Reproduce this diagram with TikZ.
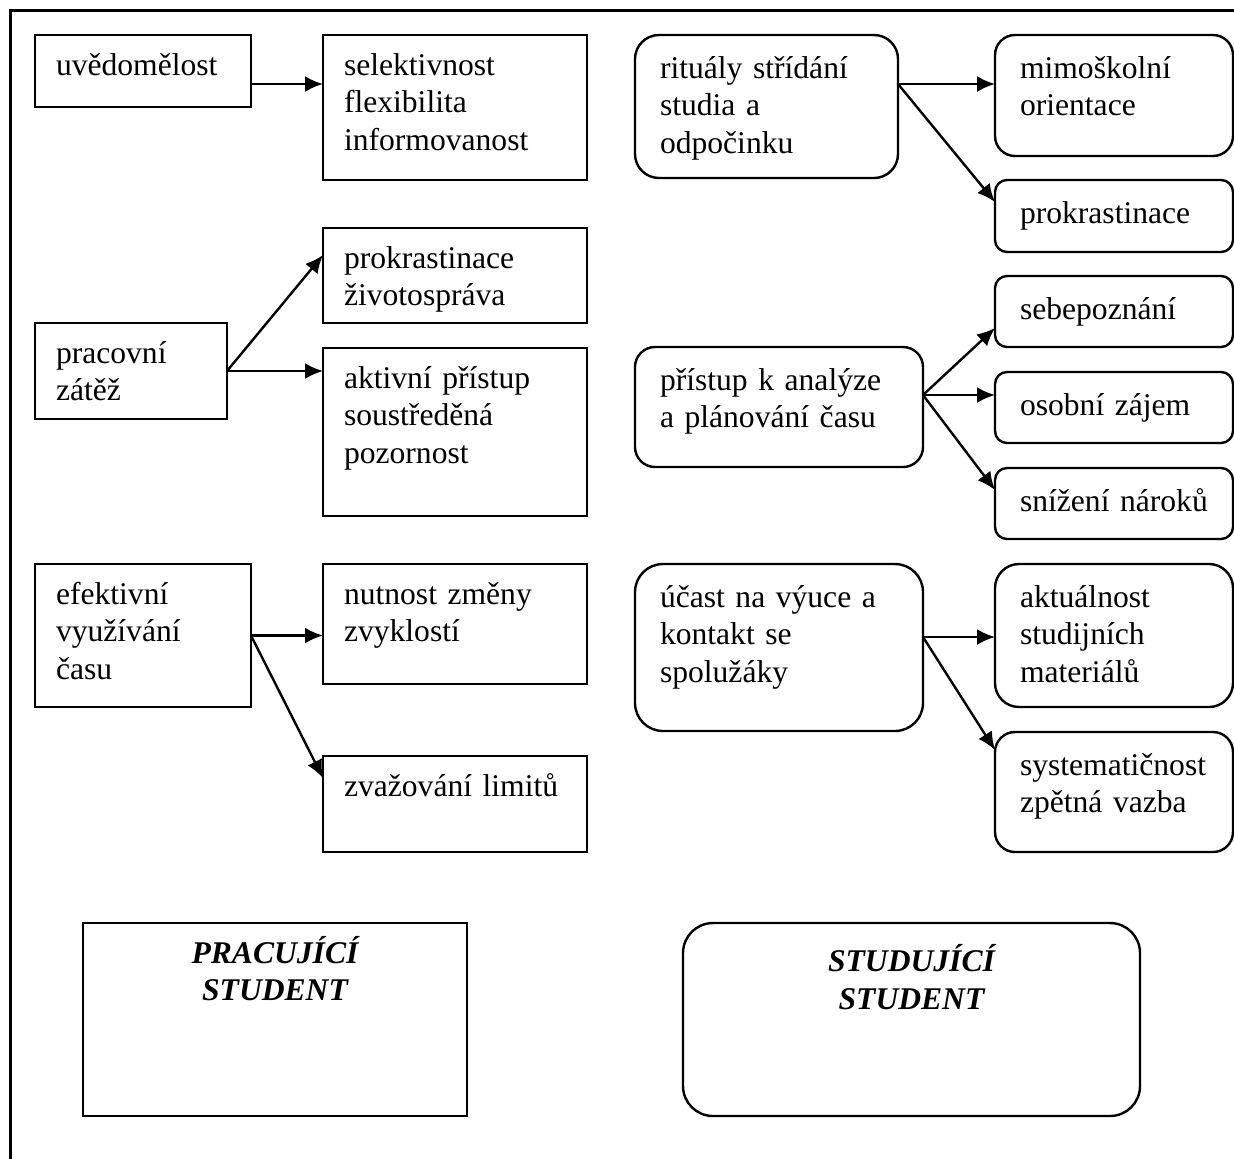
\documentclass[tikz,border=0pt]{standalone}
\usepackage{fontspec}
\setmainfont{Liberation Serif}
\usetikzlibrary{arrows.meta}
\newcommand{\figsize}{\fontsize{15.8}{18.75}\selectfont}

\begin{document}
\begin{tikzpicture}[x=0.5pt,y=-0.5pt,>={Latex[length=9pt,width=8pt]},font=\figsize,
        pbox/.style={draw,line width=1.2pt,anchor=north west,outer sep=0pt,inner xsep=10.5pt,
          inner ysep=0pt,align=left,text height=20pt},
        rbox/.style={pbox,rounded corners=#1,inner xsep=12.5pt,text height=21.5pt},
        rbox/.default=10pt,
        title/.style={align=center,font=\figsize\bfseries\itshape}]
        \useasboundingbox (0,0) rectangle (1234,1158);
        \draw[line width=1.5pt] (10,1170) -- (10,10) -- (1245,10);

        \node[pbox,text width=87pt,text depth=16pt]    (uved)   at (35,35)   {uvědomělost};
        \node[pbox,text width=111pt,text depth=52.5pt] (selekt) at (323,35)  {selektivnost\\flexibilita\\informovanost};
        \node[pbox,text width=75pt,text depth=28pt]    (zatez)  at (35,323)  {pracovní\\zátěž};
        \node[pbox,text width=111pt,text depth=27.5pt] (zivot)  at (323,228) {prokrastinace\\životospráva};
        \node[pbox,text width=111pt,text depth=64pt]   (aktiv)  at (323,348) {aktivní přístup\\soustředěná\\pozornost};
        \node[pbox,text width=87pt,text depth=51.5pt]  (efekt)  at (35,564)  {efektivní\\využívání\\času};
        \node[pbox,text width=111pt,text depth=40pt]   (zmena)  at (323,564) {nutnost změny\\zvyklostí};
        \node[pbox,text width=111pt,text depth=28pt]   (limit)  at (323,756) {zvažování limitů};
        \node[pbox,title,text width=171pt,text depth=76.5pt] (pracuj) at (83,923) {PRACUJÍCÍ\\STUDENT};

        \node[rbox=12pt,text width=106.5pt,text depth=50pt] (ritual)   at (635,35)  {rituály střídání\\studia a\\odpočinku};
        \node[rbox=10pt,text width=94pt,text depth=39pt]    (mimo)     at (995,35)  {mimoškolní\\orientace};
        \node[rbox=6pt,text width=94pt,text depth=14.5pt]   (prokr)    at (995,180) {prokrastinace};
        \node[rbox=10pt,text width=119pt,text depth=38.5pt] (analyza)  at (635,347) {přístup k analýze\\a plánování času};
        \node[rbox=6pt,text width=94pt,text depth=14pt]     (sebe)     at (995,276) {sebepoznání};
        \node[rbox=6pt,text width=94pt,text depth=14pt]     (zajem)    at (995,372) {osobní zájem};
        \node[rbox=6pt,text width=94pt,text depth=14pt]     (naroky)   at (995,468) {snížení nároků};
        \node[rbox=14pt,text width=119pt,text depth=62pt]   (vyuka)    at (635,564) {účast na výuce a\\kontakt se\\spolužáky};
        \node[rbox=12pt,text width=94pt,text depth=50pt]    (material) at (995,564) {aktuálnost\\studijních\\materiálů};
        \node[rbox=10pt,text width=94pt,text depth=38.5pt]  (system)   at (995,732) {systematičnost\\zpětná vazba};
        \node[rbox=15pt,title,text height=24.3pt,text width=203.5pt,text depth=72.2pt] (studuj) at (683,923) {STUDUJÍCÍ\\STUDENT};

        \coordinate (u0) at ([yshift=-6.5pt]uved.east);
        \coordinate (r0) at ([yshift=11.25pt]ritual.east);
        \coordinate (a0) at ([yshift=6pt]analyza.east);
        \coordinate (v0) at ([yshift=5.25pt]vyuka.east);
        \path[->,line width=1.2pt]
          (u0) edge (u0 -| selekt.west)
          (zatez.east) edge (zatez.east -| aktiv.west)
          (zatez.east) edge ([yshift=10.25pt]zivot.west)
          (efekt.east) edge (efekt.east -| zmena.west)
          (efekt.east) edge ([yshift=13pt]limit.west)
          (r0) edge (r0 -| mimo.west)
          (r0) edge ([yshift=7pt]prokr.west)
          (a0) edge (a0 -| zajem.west)
          (a0) edge ([yshift=-8.25pt]sebe.west)
          (a0) edge ([yshift=6.75pt]naroky.west)
          (v0) edge (v0 -| material.west)
          (v0) edge ([yshift=21pt]system.west)
          ;
      \end{tikzpicture}
\end{document}
